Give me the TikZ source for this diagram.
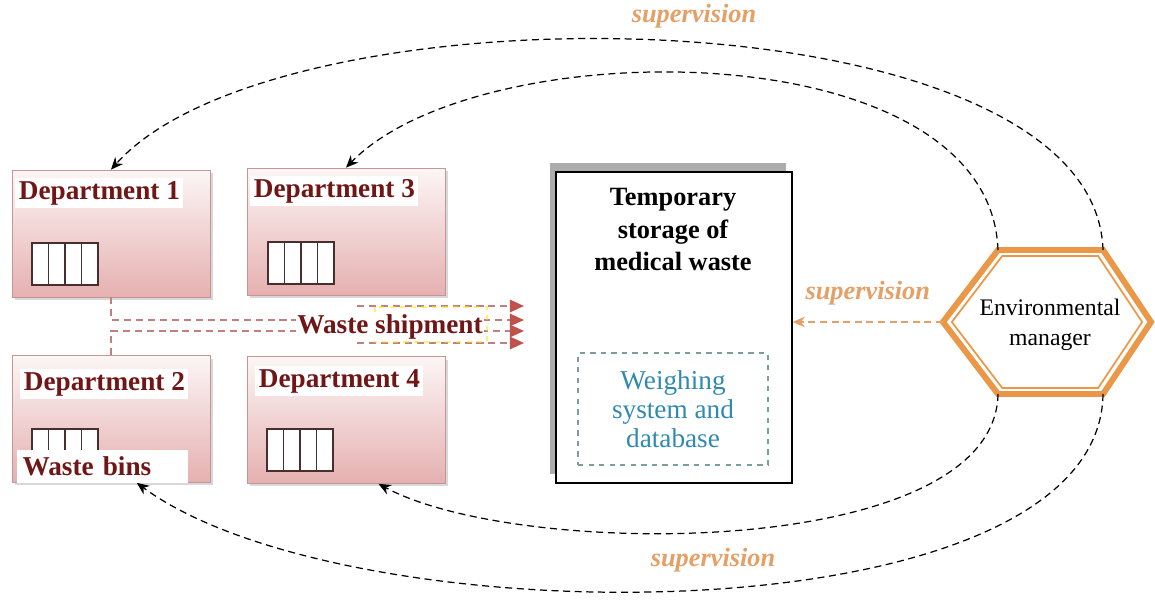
\documentclass[tikz,border=0pt]{standalone}
\usepackage{fontspec}
\setmainfont{Liberation Serif}
\usetikzlibrary{arrows.meta,positioning,shadows,calc}
\definecolor{deptred}{RGB}{112,22,22}
\definecolor{deptpink}{RGB}{230,176,176}
\definecolor{deptedge}{RGB}{196,150,150}
\definecolor{binedge}{RGB}{72,46,46}
\definecolor{shipline}{RGB}{192,128,128}
\definecolor{shiparrow}{RGB}{192,82,78}
\definecolor{suporange}{RGB}{228,160,102}
\definecolor{hexorange}{RGB}{234,152,72}
\definecolor{weighblue}{RGB}{48,138,176}
\definecolor{weighedge}{RGB}{122,158,160}
\tikzset{
  dept/.style={draw=deptedge, top color=deptpink!12, bottom color=deptpink, minimum width=3.96cm, minimum height=2.54cm,
    drop shadow={shadow xshift=0.06cm, shadow yshift=-0.06cm, fill=black!30}},
  dtitle/.style={fill=white, inner sep=2pt, text=deptred, font=\fontsize{15.5}{17}\selectfont\bfseries, anchor=west},
  bin/.style={draw=binedge, fill=white, minimum width=0.33cm, minimum height=0.84cm, inner sep=0pt, line width=0.6pt},
  wbins/.style={fill=white, text=deptred, font=\fontsize{15.5}{17}\selectfont\bfseries, text width=3.2cm, align=left, inner sep=3pt, anchor=west, minimum height=0.66cm},
  store/.style={draw=black, fill=white, line width=0.7pt, minimum width=4.72cm, minimum height=6.22cm,
    drop shadow={shadow xshift=-0.12cm, shadow yshift=0.18cm, fill=black!32, opacity=1}},
  stitle/.style={font=\fontsize{15}{18.5}\selectfont\bfseries, align=center, inner sep=0pt},
  weigh/.style={draw=weighedge, dashed, line width=0.8pt, minimum width=3.8cm, minimum height=2.24cm, text=weighblue,
    font=\fontsize{15.5}{16.5}\selectfont, align=center},
  mgrtext/.style={font=\fontsize{13.5}{17}\selectfont, align=center, inner sep=0pt},
  hexout/.style={draw=hexorange, line width=3.4pt, line join=miter},
  hexin/.style={draw=hexorange, line width=1pt, line join=miter},
  sup/.style={dashed, dash pattern=on 4pt off 2.6pt, line width=0.7pt, -{Stealth[length=7pt,width=6pt]}},
  supor/.style={draw=suporange, dash pattern=on 4pt off 2.6pt, line width=0.9pt, -{Stealth[length=7pt,width=6pt]}},
  supl/.style={text=suporange, font=\fontsize{15}{17}\selectfont\bfseries\itshape},
  ship/.style={draw=shipline, dash pattern=on 4pt off 2.8pt, line width=1.1pt, -{Triangle[length=8pt,width=7pt,color=shiparrow]}},
  shipl/.style={fill=white, text=deptred, font=\fontsize{15.5}{17}\selectfont\bfseries, inner sep=1pt},
}
\begin{document}
\begin{tikzpicture}[x=0.02cm,y=-0.02cm]
  \useasboundingbox (0,0) rectangle (1155,601);

  %% --- departments ---
  \node[dept] (d1) at (111,233.5) {};
  \node[dept] (d3) at (346,231.5) {};
  \node[dept] (d2) at (111,419) {};
  \node[dept] (d4) at (346,420) {};

  \node[dtitle] (d1t) at (15,193) {Department 1};
  \node[dtitle] (d3t) at (250,191) {Department 3};
  \node[dtitle] (d2t) at (20,384) {Department 2};
  \node[dtitle] (d4t) at (255,381) {Department 4};

  % waste bins
  \foreach \i in {0,...,3} {
    \node[bin] (b1\i) at ({40.25+16.5*\i},264) {};
    \node[bin] (b3\i) at ({276.25+16.5*\i},263) {};
    \node[bin] (b2\i) at ({40.25+16.5*\i},450) {};
    \node[bin] (b4\i) at ({275.25+16.5*\i},450) {};
  }
  \node[wbins] (wb) at (17,466) {Waste bins};

  %% --- waste shipment ---
  \coordinate (ss1) at (357,306);
  \coordinate (ss4) at (357,343);
  \coordinate (sa1) at (524,306);
  \coordinate (sa2) at (524,320);
  \coordinate (sa3) at (524,331);
  \coordinate (sa4) at (524,343);
  \draw[ship] (d1.south) |- (sa2);
  \draw[ship] (d2.north) |- (sa3);
  \draw[ship] (ss1) -- (sa1);
  \draw[ship] (ss4) -- (sa4);
  \draw[yellow!85!orange, dashed, line width=0.8pt, opacity=0.55] (375,307) rectangle (487,342);
  \node[shipl] (ship) at (390,327) {Waste shipment};

  %% --- temporary storage ---
  \node[store] (store) at (674,327.5) {};
  \node[stitle, anchor=north] (stt) at (673,188) {Temporary\\storage of\\medical waste};
  \node[weigh] (weigh) at (673,409) {Weighing\\system and\\database};

  %% --- environmental manager ---
  \coordinate (hc) at (1047,322);
  \coordinate (hl) at (943,322);
  \coordinate (htl) at (998,250);
  \coordinate (htr) at (1103,250);
  \coordinate (hr) at (1151,322);
  \coordinate (hbr) at (1103,394);
  \coordinate (hbl) at (998,394);
  \draw[hexout] (hl)--(htl)--(htr)--(hr)--(hbr)--(hbl)--cycle;
  \draw[hexin] ($(hc)!0.915!(hl)$)--($(hc)!0.915!(htl)$)--($(hc)!0.915!(htr)$)--($(hc)!0.915!(hr)$)
    --($(hc)!0.915!(hbr)$)--($(hc)!0.915!(hbl)$)--cycle;
  \node[mgrtext] (mgr) at (1050,325) {Environmental\\manager};

  %% --- supervision ---
  \draw[sup] (htr) .. controls (1095,-10) and (280,-20) .. (d1.north);
  \draw[sup] (htl) .. controls (990,30) and (480,30) .. (d3.north);
  \draw[sup] (hbl) .. controls (995,560) and (520,560) .. (d4.-63);
  \draw[sup] (hbr) .. controls (1100,640) and (350,640) .. (d2.-68);
  \draw[supor] (hl) -- (hl -| store.east)
    node[supl, midway, above=0.2cm] (supm) {supervision};
  \node[supl] (supt) at (694,16) {supervision};
  \node[supl] (supb) at (713,560) {supervision};
\end{tikzpicture}
\end{document}
